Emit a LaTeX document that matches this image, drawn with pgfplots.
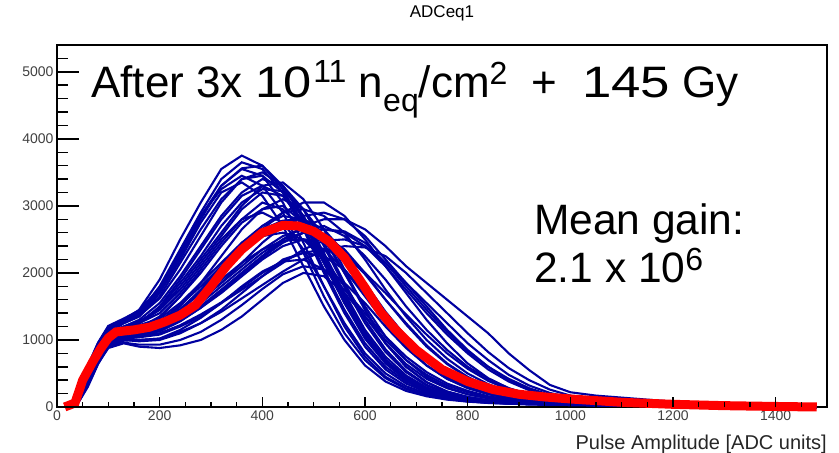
\documentclass[border=0pt]{standalone}
\usepackage{fontspec}
\setmainfont{Liberation Sans}
\usepackage{graphicx}
\usepackage{pgfplots}
\usepackage{pgfplotstable}
\pgfplotsset{compat=1.18}
\definecolor{rootblue}{RGB}{0,0,160}
\definecolor{rootred}{RGB}{255,0,0}

% individual channels: early peaking (e) and late peaking (l)
\pgfplotstableread{
x    e1   e2   e3   e4   e5   e6   e7   e8   e9   e10  e11  e12  l1   l2   l3   l4   l5   l6   l7   l8   l9   l10  l11  l12
20   0    0    0    0    0    0    0    0    0    0    0    0    0    0    0    0    0    0    0    0    0    0    0    0
40   150  120  100  90   80   70   130  90   60   140  70   100  60   50   60   70   50   60   70   80   50   90   60   70
60   600  550  500  450  420  400  580  480  350  600  380  520  380  330  360  400  320  350  420  450  330  480  360  400
80   950  900  850  800  780  750  920  830  700  950  720  870  750  680  720  770  650  700  780  800  680  840  720  740
100  1200 1150 1100 1050 1000 1000 1180 1080 950  1200 980  1120 1000 950  980  1020 880  920  1030 1050 930  1090 960  960
130  1300 1280 1250 1200 1150 1150 1300 1200 1050 1250 1100 1200 1100 1050 1080 1100 950  1000 1120 1120 1020 1180 1040 1020
160  1450 1400 1350 1300 1250 1250 1420 1280 1100 1350 1180 1250 1150 1100 1120 1120 900  980  1150 1130 1040 1220 1060 1000
200  1900 1800 1650 1550 1500 1450 1750 1450 1250 1700 1350 1400 1250 1150 1200 1180 880  1000 1220 1200 1080 1320 1100 1020
240  2500 2350 2150 1950 1900 1800 2300 1750 1500 2200 1650 1700 1450 1300 1380 1350 920  1100 1400 1400 1200 1550 1220 1150
280  3050 2900 2650 2400 2350 2200 2850 2150 1850 2750 2000 2100 1700 1500 1600 1550 1000 1250 1600 1650 1350 1850 1380 1330
320  3550 3400 3100 2850 2800 2600 3300 2550 2250 3200 2400 2500 2000 1750 1850 1800 1150 1450 1850 1900 1550 2150 1560 1550
360  3750 3650 3400 3200 3150 3000 3550 2950 2650 3350 2750 2800 2350 2000 2150 2050 1350 1700 2100 2150 1750 2450 1780 1800
400  3600 3550 3450 3400 3300 3300 3450 3200 2950 3150 2950 2900 2650 2250 2450 2300 1600 1950 2350 2350 1950 2650 2000 2020
440  3250 3200 3200 3300 3150 3350 3050 3150 3100 2700 3000 2750 2900 2500 2700 2500 1850 2200 2550 2480 2150 2780 2180 2170
480  2700 2650 2750 2950 2750 3100 2450 2850 2950 2100 2750 2350 3050 2700 2850 2600 2000 2300 2650 2500 2350 2800 2300 2200
520  2050 2000 2150 2400 2200 2650 1800 2300 2550 1500 2250 1800 3050 2800 2900 2550 1950 2250 2700 2350 2480 2650 2350 2050
560  1450 1400 1550 1800 1600 2050 1200 1700 2000 1000 1650 1250 2850 2800 2800 2350 1700 2050 2550 2050 2500 2300 2250 1750
600  950  900  1050 1250 1100 1450 750  1150 1450 620  1100 800  2500 2650 2550 2000 1350 1700 2250 1650 2400 1850 2000 1400
640  600  560  680  820  700  950  450  750  950  380  700  500  2100 2400 2200 1600 1000 1350 1900 1250 2150 1400 1700 1050
680  380  350  420  520  430  600  280  470  600  240  430  310  1700 2100 1850 1250 700  1000 1500 900  1850 1000 1380 750
720  240  220  260  320  270  370  180  290  370  160  260  200  1300 1850 1500 920  480  720  1150 620  1550 680  1080 520
760  160  150  170  200  170  230  120  180  230  110  160  130  950  1600 1150 650  320  500  850  420  1250 450  800  350
800  110  100  110  130  110  150  85   120  150  80   110  90   650  1350 850  450  220  340  600  280  950  300  570  240
840  80   75   80   90   80   100  65   85   100  60   80   70   430  1100 600  300  150  230  420  190  700  200  390  160
880  60   55   60   65   60   70   50   65   70   50   60   55   280  800  400  200  110  160  280  130  480  140  260  110
920  50   45   50   50   50   55   40   50   55   40   50   45   180  550  260  140  80   110  190  95   320  100  170  80
960  40   40   40   45   40   45   35   40   45   35   40   40   120  330  170  100  60   80   130  70   210  75   110  60
1000 35   35   35   40   35   40   30   35   40   30   35   35   90   220  120  75   45   60   95   55   140  55   80   45
1050 30   30   30   30   30   30   25   30   30   25   30   30   70   170  80   55   35   45   70   40   90   40   60   35
1100 25   25   25   25   25   25   20   25   25   20   25   25   50   140  60   40   25   35   50   30   60   30   45   25
1200 15   15   15   15   15   15   15   15   15   15   15   15   30   80   35   25   15   20   30   20   35   20   25   15
1300 10   10   10   10   10   10   10   10   10   10   10   10   20   40   20   15   10   15   20   10   20   10   15   10
1400 5    5    5    5    5    5    5    5    5    5    5    5    10   15   10   10   5    5    10   5    10   5    5    5
1480 0    0    0    0    0    0    0    0    0    0    0    0    0    0    0    0    0    0    0    0    0    0    0    0
}\bluedata

% more channels, in between the two groups
\pgfplotstableread{
x    m1   m2   m3   m4   m5   m6   m7   m8   m9   m10  m11  m12  m13  m14
20   0    0    0    0    0    0    0    0    0    0    0    0    0    0
40   130  80   70   60   150  70   55   45   55   65   85   55   110  75
60   560  440  400  360  620  400  340  300  330  380  470  350  520  430
80   900  790  740  700  960  760  690  640  660  740  820  700  870  790
100  1150 1040 980  950  1210 1010 940  900  890  990  1070 950  1130 1040
130  1280 1170 1080 1050 1320 1100 1040 990  960  1070 1150 1040 1260 1130
160  1380 1260 1150 1080 1440 1140 1070 1000 930  1080 1170 1080 1360 1160
200  1720 1480 1330 1200 1780 1240 1130 1020 930  1130 1280 1140 1620 1250
240  2250 1850 1650 1450 2300 1450 1280 1120 1000 1280 1520 1300 2050 1460
280  2800 2250 2050 1750 2850 1720 1480 1250 1120 1480 1800 1500 2550 1740
320  3300 2700 2450 2100 3250 2050 1720 1420 1300 1700 2100 1740 3050 2050
360  3560 3050 2800 2450 3450 2400 1980 1620 1520 1950 2380 2000 3400 2350
400  3600 3250 3050 2700 3300 2700 2230 1820 1760 2200 2550 2250 3500 2580
440  3300 3220 2950 2850 2900 2900 2450 2020 1980 2400 2600 2460 3300 2700
480  2800 2950 2650 2800 2300 2950 2600 2200 2100 2500 2500 2600 2850 2700
520  2150 2450 2150 2500 1650 2850 2650 2330 2050 2480 2200 2650 2250 2550
560  1550 1850 1600 2000 1100 2600 2600 2400 1850 2300 1800 2620 1650 2250
600  1020 1300 1100 1500 700  2200 2400 2380 1550 1980 1350 2450 1100 1850
640  650  860  700  1050 430  1750 2100 2250 1200 1600 950  2150 700  1420
680  400  540  440  700  270  1350 1750 2000 880  1230 640  1800 430  1050
720  250  330  270  450  175  1000 1400 1700 620  900  420  1450 270  730
760  165  210  170  290  120  720  1080 1400 420  640  280  1120 170  500
800  110  140  115  190  85   500  800  1100 290  440  190  830  115  340
840  80   95   80   130  65   340  560  820  200  300  130  600  80   230
880  60   70   60   90   50   230  380  580  140  200  90   420  60   160
920  50   55   50   65   40   150  250  400  100  140  65   280  50   110
960  40   45   40   50   35   100  160  260  75   100  50   180  40   80
1000 35   40   35   40   30   75   110  170  55   70   40   120  35   60
1050 30   30   30   30   25   55   80   110  40   50   30   85   30   45
1100 25   25   25   25   20   40   55   75   30   35   25   60   25   35
1200 15   15   15   15   15   25   35   45   20   20   15   35   15   20
1300 10   10   10   10   10   15   20   25   10   15   10   20   10   15
1400 5    5    5    5    5    5    10   10   5    5    5    10   5    5
1480 0    0    0    0    0    0    0    0    0    0    0    0    0    0
}\bluedatab

% mean spectrum
\pgfplotstableread{
x    y
15   0
35   60
50   400
70   680
85   870
100  1030
115  1120
150  1150
180  1190
210  1270
240  1370
270  1520
300  1800
330  2100
360  2350
400  2600
440  2710
470  2700
500  2620
530  2470
560  2230
600  1780
630  1420
660  1150
700  850
750  560
800  380
850  260
900  190
950  150
1000 120
1100 70
1200 40
1300 20
1400 8
1480 0
}\meandata

\newcommand\bigtxt{\fontsize{44bp}{50bp}\selectfont}
\newcommand\smtxt{\fontsize{32bp}{36bp}\selectfont}
\newcommand\meantxt{\fontsize{42.5bp}{48bp}\selectfont}

\begin{document}
\begin{tikzpicture}
\useasboundingbox (0,0) rectangle (839bp,453bp);
\begin{axis}[
  at={(57bp,46bp)}, anchor=south west,
  scale only axis, width=770bp, height=362bp,
  xmin=0, xmax=1500, ymin=0, ymax=5400,
  xtick={0,200,...,1400}, ytick={0,1000,...,5000},
  tick pos=left, tick align=inside,
  major tick length=0pt,
  scaled ticks=false,
  /pgf/number format/1000 sep={},
  /pgf/number format/assume math mode=true,
  tick label style={font=\fontsize{14bp}{16bp}\selectfont, text=black!75},
  axis line style={line width=1.5bp},
  title={ADCeq1},
  title style={at={(0.5,1)}, anchor=base, yshift=22bp, inner sep=0pt,
    font=\fontsize{17bp}{20bp}\selectfont},
  xlabel={Pulse Amplitude [ADC units]},
  xlabel style={at={(1,0)}, anchor=base east, yshift=-42bp, inner sep=0pt,
    font=\fontsize{20bp}{24bp}\selectfont, text=black!85},
  clip=false,
]
\pgfplotsinvokeforeach{e1,e2,e3,e4,e5,e6,e7,e8,e9,e10,e11,e12,l1,l2,l3,l4,l5,l6,l7,l8,l9,l10,l11,l12}{
  \addplot[rootblue, line width=2.1bp] table[x=x, y=#1] {\bluedata};
}
\pgfplotsinvokeforeach{m1,m2,m3,m4,m5,m6,m7,m8,m9,m10,m11,m12,m13,m14}{
  \addplot[rootblue, line width=2.1bp] table[x=x, y=#1] {\bluedatab};
}
\addplot[rootred, line width=9bp] table[x=x, y=y] {\meandata};
% ROOT style ticks: long on y, short on x, inside the frame
\pgfplotsinvokeforeach{0,1000,2000,3000,4000,5000}{
  \draw[black, line width=1.5bp] (axis cs:0,#1) -- ++(22bp,0);
}
\pgfplotsinvokeforeach{200,400,600,800,1200,1400,1600,1800,2200,2400,2600,2800,3200,3400,3600,3800,4200,4400,4600,4800,5200}{
  \draw[black, line width=1.5bp] (axis cs:0,#1) -- ++(11bp,0);
}
\pgfplotsinvokeforeach{200,400,600,800,1000,1200,1400}{
  \draw[black, line width=1.5bp] (axis cs:#1,0) -- ++(0,10bp);
}
\pgfplotsinvokeforeach{50,100,150,250,300,350,450,500,550,650,700,750,850,900,950,1050,1100,1150,1250,1300,1350,1450}{
  \draw[black, line width=1.5bp] (axis cs:#1,0) -- ++(0,5bp);
}
\end{axis}
% annotations
\node[anchor=base west, inner sep=0pt, font=\bigtxt] at (91bp,355bp)
  {After 3x \scalebox{1.15}[1]{10}\kern2bp\raisebox{15bp}{\smtxt 11} n\raisebox{-14bp}{\smtxt eq}/cm\raisebox{13bp}{\smtxt 2}\ \ +\ \ \scalebox{1.2}[1]{145} Gy};
\node[anchor=base west, inner sep=0pt, font=\meantxt] at (534bp,218bp) {Mean gain:};
\node[anchor=base west, inner sep=0pt, font=\meantxt] at (534bp,170bp)
  {2.1 x 10\raisebox{12bp}{\smtxt 6}};
\end{tikzpicture}
\end{document}
